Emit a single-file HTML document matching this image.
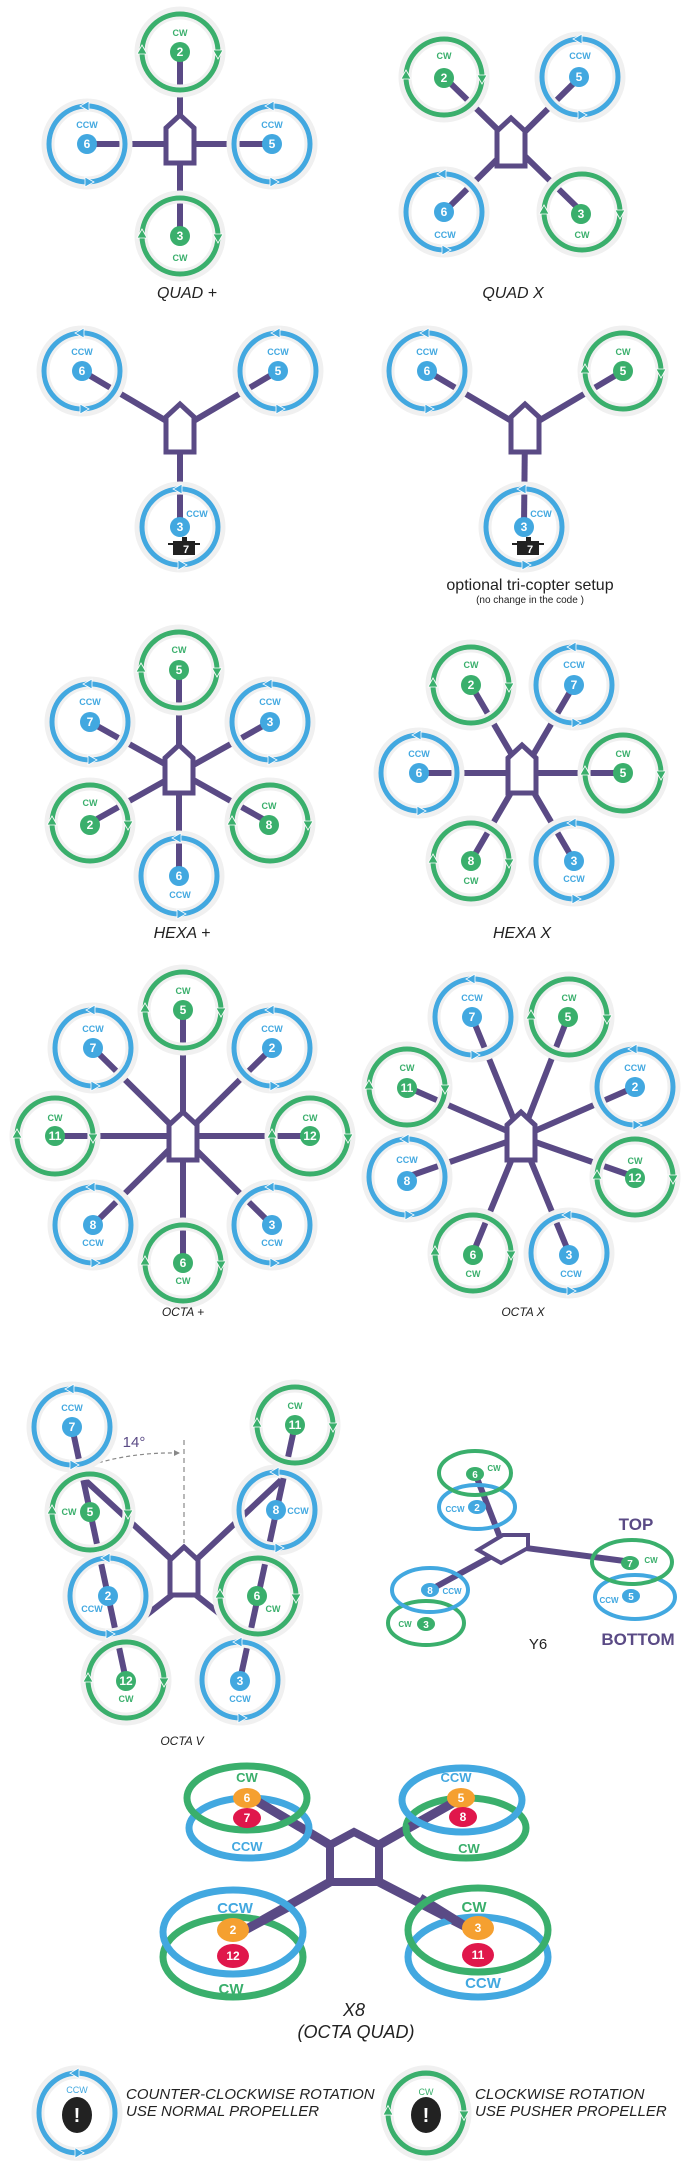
<!DOCTYPE html>
<html><head><meta charset="utf-8"><style>
html,body{margin:0;padding:0;background:#fff}
svg{display:block}
.n{font:bold 12px "Liberation Sans",sans-serif;fill:#fff;text-anchor:middle}
.lg{font:bold 9px "Liberation Sans",sans-serif;fill:#3aaf6c;text-anchor:middle}
.lb{font:bold 9px "Liberation Sans",sans-serif;fill:#42a8e0;text-anchor:middle}
.t{font:italic 16px "Liberation Sans",sans-serif;fill:#222;text-anchor:middle}
.ts{font:italic 12px "Liberation Sans",sans-serif;fill:#222;text-anchor:middle}
.big{font:bold 13px "Liberation Sans",sans-serif;text-anchor:middle}
.leg{font:italic 15px "Liberation Sans Narrow","Liberation Sans",sans-serif;fill:#222}
.fg{fill:#3aaf6c}.fb{fill:#42a8e0}
.arm{stroke:#5a4a85;stroke-width:6;fill:none}
</style></head><body>
<svg width="700" height="2161" viewBox="0 0 700 2161" xmlns="http://www.w3.org/2000/svg">
<defs>
<g id="G"><circle r="39" fill="none" stroke="#f0f0f0" stroke-width="13"/><circle r="38" fill="none" stroke="#3aaf6c" stroke-width="5"/><path d="M33,-2h10l-5,9z M-43,2h10l-5,-9z" fill="#3aaf6c" stroke="#fff" stroke-width="0.8"/></g>
<g id="B"><circle r="39" fill="none" stroke="#f0f0f0" stroke-width="13"/><circle r="38" fill="none" stroke="#42a8e0" stroke-width="5"/><path d="M2,-43v10l-9,-5z M-2,33v10l9,-5z" fill="#42a8e0" stroke="#fff" stroke-width="0.8"/></g>
<path id="body" d="M-14,-12 L0,-25 L14,-12 L14,23 L-14,23 Z" fill="#fff" stroke="#5a4a85" stroke-width="5" stroke-linejoin="miter"/>
</defs>

<!-- QUAD + -->
<g class="arm"><line x1="180" y1="52" x2="180" y2="236"/><line x1="87" y1="144" x2="272" y2="144"/></g>
<use href="#body" x="180" y="140"/>
<use href="#G" x="180" y="52"/><circle cx="180" cy="52" r="10" class="fg"/><text x="180" y="56" class="n">2</text><text x="180" y="36" class="lg">CW</text>
<use href="#B" x="87" y="144"/><circle cx="87" cy="144" r="10" class="fb"/><text x="87" y="148" class="n">6</text><text x="87" y="128" class="lb">CCW</text>
<use href="#B" x="272" y="144"/><circle cx="272" cy="144" r="10" class="fb"/><text x="272" y="148" class="n">5</text><text x="272" y="128" class="lb">CCW</text>
<use href="#G" x="180" y="236"/><circle cx="180" cy="236" r="10" class="fg"/><text x="180" y="240" class="n">3</text><text x="180" y="261" class="lg">CW</text>
<text x="187" y="298" class="t">QUAD +</text>

<!-- QUAD X -->
<g class="arm"><line x1="444" y1="77" x2="582" y2="212"/><line x1="580" y1="77" x2="444" y2="212"/></g>
<use href="#body" x="511" y="143"/>
<use href="#G" x="444" y="77"/><circle cx="444" cy="78" r="10" class="fg"/><text x="444" y="82" class="n">2</text><text x="444" y="59" class="lg">CW</text>
<use href="#B" x="580" y="77"/><circle cx="579" cy="77" r="10" class="fb"/><text x="579" y="81" class="n">5</text><text x="580" y="59" class="lb">CCW</text>
<use href="#B" x="444" y="212"/><circle cx="444" cy="212" r="10" class="fb"/><text x="444" y="216" class="n">6</text><text x="445" y="238" class="lb">CCW</text>
<use href="#G" x="582" y="212"/><circle cx="581" cy="214" r="10" class="fg"/><text x="581" y="218" class="n">3</text><text x="582" y="238" class="lg">CW</text>
<text x="513" y="298" class="t">QUAD X</text>

<!-- TRI left -->
<g class="arm"><line x1="180" y1="429" x2="82" y2="371"/><line x1="180" y1="429" x2="278" y2="371"/><line x1="180" y1="429" x2="180" y2="525"/></g>
<use href="#body" x="180" y="429"/>
<use href="#B" x="82" y="371"/><circle cx="82" cy="371" r="10" class="fb"/><text x="82" y="375" class="n">6</text><text x="82" y="355" class="lb">CCW</text>
<use href="#B" x="278" y="371"/><circle cx="278" cy="371" r="10" class="fb"/><text x="278" y="375" class="n">5</text><text x="278" y="355" class="lb">CCW</text>
<use href="#B" x="180" y="527"/><circle cx="180" cy="527" r="10" class="fb"/><text x="180" y="531" class="n">3</text><text x="197" y="517" class="lb">CCW</text>
<g><rect x="173" y="541" width="22" height="14" fill="#222"/><rect x="168" y="543" width="32" height="2" fill="#222"/><rect x="182" y="537" width="5" height="5" fill="#222"/><text x="186" y="553" class="n" style="font-size:11px">7</text></g>

<!-- TRI right -->
<g class="arm"><line x1="525" y1="429" x2="427" y2="371"/><line x1="525" y1="429" x2="623" y2="371"/><line x1="525" y1="429" x2="524" y2="525"/></g>
<use href="#body" x="525" y="429"/>
<use href="#B" x="427" y="371"/><circle cx="427" cy="371" r="10" class="fb"/><text x="427" y="375" class="n">6</text><text x="427" y="355" class="lb">CCW</text>
<use href="#G" x="623" y="371"/><circle cx="623" cy="371" r="10" class="fg"/><text x="623" y="375" class="n">5</text><text x="623" y="355" class="lg">CW</text>
<use href="#B" x="524" y="527"/><circle cx="524" cy="527" r="10" class="fb"/><text x="524" y="531" class="n">3</text><text x="541" y="517" class="lb">CCW</text>
<g><rect x="517" y="541" width="22" height="14" fill="#222"/><rect x="512" y="543" width="32" height="2" fill="#222"/><rect x="526" y="537" width="5" height="5" fill="#222"/><text x="530" y="553" class="n" style="font-size:11px">7</text></g>
<text x="530" y="590" style="font:16px 'Liberation Sans',sans-serif;fill:#222;text-anchor:middle">optional tri-copter setup</text>
<text x="530" y="603" style="font:10px 'Liberation Sans',sans-serif;fill:#222;text-anchor:middle">(no change in the code )</text>

<!-- HEXA + -->
<g class="arm"><line x1="179" y1="670" x2="179" y2="876"/><line x1="90" y1="722" x2="270" y2="823"/><line x1="270" y1="722" x2="90" y2="823"/></g>
<use href="#body" x="179" y="770"/>
<use href="#G" x="179" y="670"/><circle cx="179" cy="670" r="10" class="fg"/><text x="179" y="674" class="n">5</text><text x="179" y="653" class="lg">CW</text>
<use href="#B" x="90" y="722"/><circle cx="90" cy="722" r="10" class="fb"/><text x="90" y="726" class="n">7</text><text x="90" y="705" class="lb">CCW</text>
<use href="#B" x="270" y="722"/><circle cx="270" cy="722" r="10" class="fb"/><text x="270" y="726" class="n">3</text><text x="270" y="705" class="lb">CCW</text>
<use href="#G" x="90" y="823"/><circle cx="90" cy="825" r="10" class="fg"/><text x="90" y="829" class="n">2</text><text x="90" y="806" class="lg">CW</text>
<use href="#G" x="270" y="823"/><circle cx="269" cy="825" r="10" class="fg"/><text x="269" y="829" class="n">8</text><text x="269" y="809" class="lg">CW</text>
<use href="#B" x="179" y="876"/><circle cx="179" cy="876" r="10" class="fb"/><text x="179" y="880" class="n">6</text><text x="180" y="898" class="lb">CCW</text>
<text x="182" y="938" class="t">HEXA +</text>

<!-- HEXA X -->
<g class="arm"><line x1="471" y1="685" x2="574" y2="861"/><line x1="574" y1="685" x2="471" y2="861"/><line x1="419" y1="773" x2="623" y2="773"/></g>
<use href="#body" x="522" y="770"/>
<use href="#G" x="471" y="685"/><circle cx="471" cy="685" r="10" class="fg"/><text x="471" y="689" class="n">2</text><text x="471" y="668" class="lg">CW</text>
<use href="#B" x="574" y="685"/><circle cx="574" cy="685" r="10" class="fb"/><text x="574" y="689" class="n">7</text><text x="574" y="668" class="lb">CCW</text>
<use href="#B" x="419" y="773"/><circle cx="419" cy="773" r="10" class="fb"/><text x="419" y="777" class="n">6</text><text x="419" y="757" class="lb">CCW</text>
<use href="#G" x="623" y="773"/><circle cx="623" cy="773" r="10" class="fg"/><text x="623" y="777" class="n">5</text><text x="623" y="757" class="lg">CW</text>
<use href="#G" x="471" y="861"/><circle cx="471" cy="861" r="10" class="fg"/><text x="471" y="884" class="lg">CW</text><text x="471" y="865" class="n">8</text>
<use href="#B" x="574" y="861"/><circle cx="574" cy="861" r="10" class="fb"/><text x="574" y="865" class="n">3</text><text x="574" y="882" class="lb">CCW</text>
<text x="522" y="938" class="t">HEXA X</text>

<!-- OCTA + -->
<g class="arm"><line x1="183" y1="1010" x2="183" y2="1263"/><line x1="55" y1="1136" x2="310" y2="1136"/><line x1="93" y1="1048" x2="272" y2="1225"/><line x1="272" y1="1048" x2="93" y2="1225"/></g>
<use href="#body" x="183" y="1137"/>
<use href="#G" x="183" y="1010"/><circle cx="183" cy="1010" r="10" class="fg"/><text x="183" y="1014" class="n">5</text><text x="183" y="994" class="lg">CW</text>
<use href="#B" x="272" y="1048"/><circle cx="272" cy="1048" r="10" class="fb"/><text x="272" y="1052" class="n">2</text><text x="272" y="1032" class="lb">CCW</text>
<use href="#G" x="310" y="1136"/><circle cx="310" cy="1136" r="10" class="fg"/><text x="310" y="1140" class="n">12</text><text x="310" y="1121" class="lg">CW</text>
<use href="#B" x="272" y="1225"/><circle cx="272" cy="1225" r="10" class="fb"/><text x="272" y="1229" class="n">3</text><text x="272" y="1246" class="lb">CCW</text>
<use href="#G" x="183" y="1263"/><circle cx="183" cy="1263" r="10" class="fg"/><text x="183" y="1267" class="n">6</text><text x="183" y="1284" class="lg">CW</text>
<use href="#B" x="93" y="1225"/><circle cx="93" cy="1225" r="10" class="fb"/><text x="93" y="1229" class="n">8</text><text x="93" y="1246" class="lb">CCW</text>
<use href="#G" x="55" y="1136"/><circle cx="55" cy="1136" r="10" class="fg"/><text x="55" y="1140" class="n">11</text><text x="55" y="1121" class="lg">CW</text>
<use href="#B" x="93" y="1048"/><circle cx="93" cy="1048" r="10" class="fb"/><text x="93" y="1052" class="n">7</text><text x="93" y="1032" class="lb">CCW</text>
<text x="183" y="1316" class="ts">OCTA +</text>

<!-- OCTA X -->
<g class="arm"><line x1="521" y1="1137" x2="472" y2="1017"/><line x1="521" y1="1137" x2="568" y2="1017"/><line x1="521" y1="1137" x2="635" y2="1087"/><line x1="521" y1="1137" x2="635" y2="1177"/><line x1="521" y1="1137" x2="569" y2="1253"/><line x1="521" y1="1137" x2="473" y2="1253"/><line x1="521" y1="1137" x2="407" y2="1177"/><line x1="521" y1="1137" x2="407" y2="1087"/></g>
<use href="#body" x="521" y="1137"/>
<use href="#B" x="473" y="1017"/><circle cx="472" cy="1017" r="10" class="fb"/><text x="472" y="1021" class="n">7</text><text x="472" y="1001" class="lb">CCW</text>
<use href="#G" x="569" y="1017"/><circle cx="568" cy="1017" r="10" class="fg"/><text x="568" y="1021" class="n">5</text><text x="569" y="1001" class="lg">CW</text>
<use href="#B" x="635" y="1087"/><circle cx="635" cy="1087" r="10" class="fb"/><text x="635" y="1091" class="n">2</text><text x="635" y="1071" class="lb">CCW</text>
<use href="#G" x="635" y="1177"/><circle cx="635" cy="1178" r="10" class="fg"/><text x="635" y="1182" class="n">12</text><text x="635" y="1164" class="lg">CW</text>
<use href="#B" x="569" y="1253"/><circle cx="569" cy="1255" r="10" class="fb"/><text x="569" y="1259" class="n">3</text><text x="571" y="1277" class="lb">CCW</text>
<use href="#G" x="473" y="1253"/><circle cx="473" cy="1255" r="10" class="fg"/><text x="473" y="1259" class="n">6</text><text x="473" y="1277" class="lg">CW</text>
<use href="#B" x="407" y="1177"/><circle cx="407" cy="1181" r="10" class="fb"/><text x="407" y="1185" class="n">8</text><text x="407" y="1163" class="lb">CCW</text>
<use href="#G" x="407" y="1087"/><circle cx="407" cy="1088" r="10" class="fg"/><text x="407" y="1092" class="n">11</text><text x="407" y="1071" class="lg">CW</text>
<text x="523" y="1316" class="ts">OCTA X</text>

<!-- OCTA V -->
<g class="arm"><line x1="72" y1="1427" x2="126" y2="1680"/><line x1="295" y1="1425" x2="240" y2="1680"/><line x1="172" y1="1560" x2="85" y2="1480"/><line x1="196" y1="1560" x2="281" y2="1480"/><line x1="172" y1="1595" x2="117" y2="1638"/><line x1="196" y1="1595" x2="249" y2="1637"/></g>
<use href="#body" x="184" y="1572"/>
<line x1="184" y1="1440" x2="184" y2="1543" stroke="#888" stroke-width="1.2" stroke-dasharray="5,4"/>
<path d="M179,1453 Q130,1452 88,1466" fill="none" stroke="#888" stroke-width="1.2" stroke-dasharray="4,3"/>
<path d="M88,1466 l7,-5 l-1,6z M180,1453 l-6,-3 v6z" fill="#888"/>
<text x="134" y="1447" style="font:15px 'Liberation Sans Narrow','Liberation Sans',sans-serif;fill:#5a4a85;text-anchor:middle">14°</text>
<use href="#B" x="72" y="1427"/><circle cx="72" cy="1427" r="10" class="fb"/><text x="72" y="1431" class="n">7</text><text x="72" y="1411" class="lb">CCW</text>
<use href="#G" x="295" y="1425"/><circle cx="295" cy="1425" r="10" class="fg"/><text x="295" y="1429" class="n">11</text><text x="295" y="1409" class="lg">CW</text>
<use href="#G" x="90" y="1512"/><circle cx="90" cy="1512" r="10" class="fg"/><text x="90" y="1516" class="n">5</text><text x="69" y="1515" class="lg">CW</text>
<use href="#B" x="277" y="1510"/><circle cx="276" cy="1510" r="10" class="fb"/><text x="276" y="1514" class="n">8</text><text x="298" y="1514" class="lb">CCW</text>
<use href="#B" x="108" y="1596"/><circle cx="108" cy="1596" r="10" class="fb"/><text x="108" y="1600" class="n">2</text><text x="92" y="1612" class="lb">CCW</text>
<use href="#G" x="258" y="1596"/><circle cx="257" cy="1596" r="10" class="fg"/><text x="257" y="1600" class="n">6</text><text x="273" y="1612" class="lg">CW</text>
<use href="#G" x="126" y="1680"/><circle cx="126" cy="1681" r="10" class="fg"/><text x="126" y="1685" class="n">12</text><text x="126" y="1702" class="lg">CW</text>
<use href="#B" x="240" y="1680"/><circle cx="240" cy="1681" r="10" class="fb"/><text x="240" y="1685" class="n">3</text><text x="240" y="1702" class="lb">CCW</text>
<text x="182" y="1745" class="ts">OCTA V</text>

<!-- Y6 -->
<g class="arm"><line x1="503" y1="1545" x2="475" y2="1473"/><line x1="503" y1="1550" x2="430" y2="1590"/><line x1="503" y1="1545" x2="632" y2="1562"/></g>
<g fill="none" stroke-width="4">
<ellipse cx="477" cy="1507" rx="38" ry="22" stroke="#42a8e0"/>
<ellipse cx="475" cy="1473" rx="36" ry="22" stroke="#3aaf6c"/>
<ellipse cx="426" cy="1623" rx="38" ry="22" stroke="#3aaf6c"/>
<ellipse cx="430" cy="1590" rx="38" ry="22" stroke="#42a8e0"/>
<ellipse cx="635" cy="1597" rx="40" ry="22" stroke="#42a8e0"/>
<ellipse cx="632" cy="1562" rx="40" ry="22" stroke="#3aaf6c"/>
</g>
<polygon points="478,1550 503,1535 528,1535 528,1548 501,1563" fill="#fff" stroke="#5a4a85" stroke-width="4" stroke-linejoin="miter"/>
<ellipse cx="475" cy="1474" rx="9" ry="7" class="fg"/><text x="475" y="1478" class="n" style="font-size:10px">6</text><text x="494" y="1471" class="lg" style="font-size:8px">CW</text>
<ellipse cx="477" cy="1507" rx="9" ry="7" class="fb"/><text x="477" y="1511" class="n" style="font-size:10px">2</text><text x="455" y="1512" class="lb" style="font-size:8px">CCW</text>
<ellipse cx="430" cy="1590" rx="9" ry="7" class="fb"/><text x="430" y="1594" class="n" style="font-size:10px">8</text><text x="452" y="1594" class="lb" style="font-size:8px">CCW</text>
<ellipse cx="426" cy="1624" rx="9" ry="7" class="fg"/><text x="426" y="1628" class="n" style="font-size:10px">3</text><text x="405" y="1627" class="lg" style="font-size:8px">CW</text>
<ellipse cx="630" cy="1563" rx="9" ry="7" class="fg"/><text x="630" y="1567" class="n" style="font-size:10px">7</text><text x="651" y="1563" class="lg" style="font-size:8px">CW</text>
<ellipse cx="631" cy="1596" rx="9" ry="7" class="fb"/><text x="631" y="1600" class="n" style="font-size:10px">5</text><text x="609" y="1603" class="lb" style="font-size:8px">CCW</text>
<text x="636" y="1530" style="font:bold 17px 'Liberation Sans Narrow','Liberation Sans',sans-serif;fill:#5a4a85;text-anchor:middle">TOP</text>
<text x="638" y="1645" style="font:bold 17px 'Liberation Sans Narrow','Liberation Sans',sans-serif;fill:#5a4a85;text-anchor:middle">BOTTOM</text>
<text x="538" y="1649" style="font:15px 'Liberation Sans Narrow','Liberation Sans',sans-serif;fill:#222;text-anchor:middle">Y6</text>

<!-- X8 -->
<g class="arm" style="stroke-width:9"><line x1="330" y1="1845" x2="255" y2="1800"/><line x1="379" y1="1845" x2="458" y2="1800"/><line x1="330" y1="1882" x2="245" y2="1930"/><line x1="379" y1="1882" x2="468" y2="1928"/></g>
<g fill="none" stroke-width="7">
<ellipse cx="249" cy="1828" rx="60" ry="30" stroke="#42a8e0"/>
<ellipse cx="466" cy="1828" rx="60" ry="30" stroke="#3aaf6c"/>
<ellipse cx="233" cy="1957" rx="70" ry="40" stroke="#3aaf6c"/>
<ellipse cx="478" cy="1957" rx="70" ry="40" stroke="#42a8e0"/>
</g>
<path d="M330,1845 L354,1832 L379,1845 L379,1882 L330,1882 Z" fill="#fff" stroke="#5a4a85" stroke-width="8"/>
<g class="arm" style="stroke-width:9"><line x1="300" y1="1827" x2="255" y2="1800"/><line x1="410" y1="1827" x2="458" y2="1800"/><line x1="290" y1="1906" x2="245" y2="1930"/><line x1="420" y1="1898" x2="468" y2="1928"/></g>
<g fill="none" stroke-width="7">
<ellipse cx="247" cy="1798" rx="60" ry="32" stroke="#3aaf6c"/>
<ellipse cx="462" cy="1800" rx="60" ry="32" stroke="#42a8e0"/>
<ellipse cx="233" cy="1932" rx="70" ry="42" stroke="#42a8e0"/>
<ellipse cx="478" cy="1930" rx="70" ry="42" stroke="#3aaf6c"/>
</g>
<g style="font:bold 12px 'Liberation Sans',sans-serif;text-anchor:middle;fill:#fff">
<ellipse cx="247" cy="1798" rx="14" ry="10" fill="#f5a030"/><text x="247" y="1802">6</text>
<ellipse cx="247" cy="1818" rx="14" ry="10" fill="#e0174b"/><text x="247" y="1822">7</text>
<ellipse cx="461" cy="1798" rx="14" ry="10" fill="#f5a030"/><text x="461" y="1802">5</text>
<ellipse cx="463" cy="1817" rx="14" ry="10" fill="#e0174b"/><text x="463" y="1821">8</text>
<ellipse cx="233" cy="1930" rx="16" ry="12" fill="#f5a030"/><text x="233" y="1934">2</text>
<ellipse cx="233" cy="1956" rx="16" ry="12" fill="#e0174b"/><text x="233" y="1960">12</text>
<ellipse cx="478" cy="1928" rx="16" ry="12" fill="#f5a030"/><text x="478" y="1932">3</text>
<ellipse cx="478" cy="1955" rx="16" ry="12" fill="#e0174b"/><text x="478" y="1959">11</text>
</g>
<text x="247" y="1782" class="big" style="fill:#3aaf6c">CW</text>
<text x="247" y="1851" class="big" style="fill:#42a8e0">CCW</text>
<text x="456" y="1782" class="big" style="fill:#42a8e0">CCW</text>
<text x="469" y="1853" class="big" style="fill:#3aaf6c">CW</text>
<text x="235" y="1913" class="big" style="fill:#42a8e0;font-size:15px">CCW</text>
<text x="231" y="1994" class="big" style="fill:#3aaf6c;font-size:15px">CW</text>
<text x="474" y="1912" class="big" style="fill:#3aaf6c;font-size:15px">CW</text>
<text x="483" y="1988" class="big" style="fill:#42a8e0;font-size:15px">CCW</text>
<text x="354" y="2016" style="font:italic 18px 'Liberation Sans Narrow','Liberation Sans',sans-serif;fill:#222;text-anchor:middle">X8</text>
<text x="356" y="2038" style="font:italic 18px 'Liberation Sans Narrow','Liberation Sans',sans-serif;fill:#222;text-anchor:middle">(OCTA QUAD)</text>

<!-- Legend -->
<g transform="translate(77,2113) scale(1,1.05)"><use href="#B"/></g>
<text x="77" y="2093" class="lb" style="font-weight:normal">CCW</text>
<ellipse cx="77" cy="2115" rx="15" ry="18" fill="#222"/><text x="77" y="2122" style="font:bold 20px 'Liberation Sans',sans-serif;fill:#fff;text-anchor:middle">!</text>
<text x="126" y="2099" class="leg">COUNTER-CLOCKWISE ROTATION</text>
<text x="126" y="2116" class="leg">USE NORMAL PROPELLER</text>
<g transform="translate(426,2113) scale(1,1.05)"><use href="#G"/></g>
<text x="426" y="2095" class="lg" style="font-weight:normal">CW</text>
<ellipse cx="426" cy="2115" rx="15" ry="18" fill="#222"/><text x="426" y="2122" style="font:bold 20px 'Liberation Sans',sans-serif;fill:#fff;text-anchor:middle">!</text>
<text x="475" y="2099" class="leg">CLOCKWISE ROTATION</text>
<text x="475" y="2116" class="leg">USE PUSHER PROPELLER</text>
</svg>
</body></html>
